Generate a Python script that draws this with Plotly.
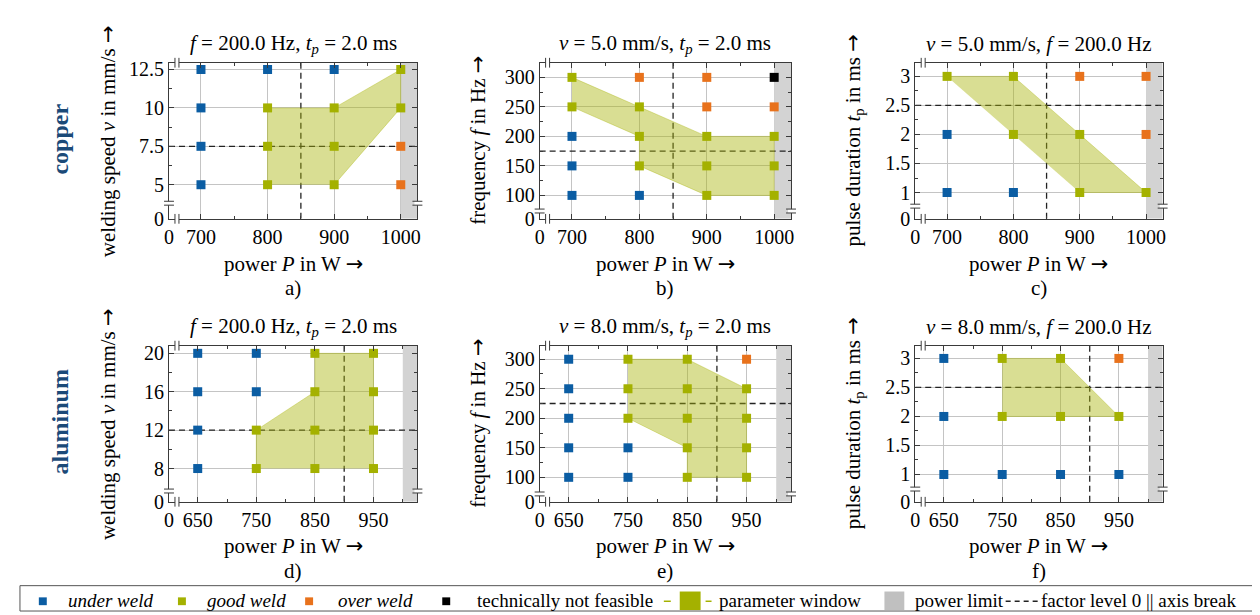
import plotly.graph_objects as go

W, H = 1260, 615
FONT = "Liberation Serif, Times New Roman, Times, serif"
ARROW = '<span style="font-family:DejaVu Sans">→</span>'

# ---------------- data ----------------
P_copper = [700, 800, 900, 1000]
P_alu = [650, 750, 850, 950]

v_copper = [5, 7.5, 10, 12.5]
f_levels = [100, 150, 200, 250, 300]
tp_levels = [1, 2, 3]
v_alu = [8, 12, 16, 20]

# weld result per power level (rows) and factor level (columns)
# u = under weld, g = good weld, o = over weld, x = technically not feasible
res_a = [["u", "u", "u", "u"], ["g", "g", "g", "u"], ["g", "g", "g", "u"], ["o", "o", "g", "g"]]
res_b = [["u", "u", "u", "g", "g"], ["u", "g", "g", "g", "o"], ["g", "g", "g", "o", "o"], ["g", "g", "g", "o", "x"]]
res_c = [["u", "u", "g"], ["u", "g", "g"], ["g", "g", "o"], ["g", "o", "o"]]
res_d = [["u", "u", "u", "u"], ["g", "g", "u", "u"], ["g", "g", "g", "g"], ["g", "g", "g", "g"]]
res_e = [["u", "u", "u", "u", "u"], ["u", "u", "g", "g", "g"], ["g", "g", "g", "g", "g"], ["g", "g", "g", "g", "o"]]
res_f = [["u", "u", "u"], ["u", "g", "g"], ["u", "g", "g"], ["u", "g", "o"]]

# parameter windows (polygon vertices)
win_a_P = [800, 800, 900, 1000, 1000, 900]
win_a_y = [5, 10, 10, 12.5, 10, 5]
win_b_P = [700, 900, 1000, 1000, 900, 800, 800, 700]
win_b_y = [300, 200, 200, 100, 100, 150, 200, 250]
win_c_P = [700, 800, 1000, 900]
win_c_y = [3, 3, 1, 1]
win_d_P = [750, 750, 850, 850, 950, 950]
win_d_y = [8, 12, 16, 20, 20, 8]
win_e_P = [750, 850, 950, 950, 850, 850, 750]
win_e_y = [300, 300, 250, 100, 100, 150, 200]
win_f_P = [750, 850, 950, 750]
win_f_y = [3, 3, 2, 2]

# factor level 0 (centre point)
center_P = [850, 850, 850, 900, 900, 900]
center_y = [7.5, 175, 2.5, 12, 225, 2.5]
power_limit = 1000

titles = [
    "<i>f</i> = 200.0 Hz, <i>t<sub>p</sub></i> = 2.0 ms",
    "<i>v</i> = 5.0 mm/s, <i>t<sub>p</sub></i> = 2.0 ms",
    "<i>v</i> = 5.0 mm/s, <i>f</i> = 200.0 Hz",
    "<i>f</i> = 200.0 Hz, <i>t<sub>p</sub></i> = 2.0 ms",
    "<i>v</i> = 8.0 mm/s, <i>t<sub>p</sub></i> = 2.0 ms",
    "<i>v</i> = 8.0 mm/s, <i>f</i> = 200.0 Hz",
]
ytitles = [
    "welding speed <i>v</i> in mm/s " + ARROW,
    "frequency <i>f</i> in Hz " + ARROW,
    "pulse duration <i>t</i><sub>p</sub> in ms " + ARROW,
    "welding speed <i>v</i> in mm/s " + ARROW,
    "frequency <i>f</i> in Hz " + ARROW,
    "pulse duration <i>t</i><sub>p</sub> in ms " + ARROW,
]
xtitle = "power <i>P</i> in W " + ARROW
panel_labels = ["a)", "b)", "c)", "d)", "e)", "f)"]
row_labels = ["copper", "aluminum"]

x_ticks_top = [700, 800, 900, 1000]
x_minor_top = [750, 850, 950]
x_ticks_bot = [650, 750, 850, 950]
x_minor_bot = [700, 800, 900, 1000]
y_ticks = [[5, 7.5, 10, 12.5], [100, 150, 200, 250, 300], [1, 1.5, 2, 2.5, 3],
           [8, 12, 16, 20], [100, 150, 200, 250, 300], [1, 1.5, 2, 2.5, 3]]
y_ticktext = [["5", "7.5", "10", "12.5"], ["100", "150", "200", "250", "300"],
              ["1", "1.5", "2", "2.5", "3"], ["8", "12", "16", "20"],
              ["100", "150", "200", "250", "300"], ["1", "1.5", "2", "2.5", "3"]]
y_minor = [[6.25, 8.75, 11.25], [125, 175, 225, 275], [1.25, 1.75, 2.25, 2.75],
           [10, 14, 18], [125, 175, 225, 275], [1.25, 1.75, 2.25, 2.75]]

# ---------------- styles / layout ----------------
COL = {"u": "#0b5da3", "g": "#a4b100", "o": "#e8721c", "x": "#000000"}
FILL = "rgba(168,180,10,0.44)"
GRAY = "#d3d3d3"
AX = "#3a3a3a"
GRID = "#c4c4c4"

XD = [(157, 407), (530, 783), (908, 1157)]
YD = [(52, 212), (342, 502)]
x_range_top = [652, 1025]
x_range_bot = [601, 1025]
y_ranges = [[2.78, 12.94], [60.3, 324.8], [0.547, 3.235],
             [4.54, 20.8], [58.6, 323], [0.53, 3.22]]
y_break_px = [16, 8, 13, 11, 8, 13]


def px(x):
    return x / W


def py(y):
    return 1 - y / H


panels = [
    (P_copper, v_copper, res_a, win_a_P, win_a_y),
    (P_copper, f_levels, res_b, win_b_P, win_b_y),
    (P_copper, tp_levels, res_c, win_c_P, win_c_y),
    (P_alu, v_alu, res_d, win_d_P, win_d_y),
    (P_alu, f_levels, res_e, win_e_P, win_e_y),
    (P_alu, tp_levels, res_f, win_f_P, win_f_y),
]

fig = go.Figure()
shapes = []
annotations = []
layout_axes = {}

for i, (Ps, levels, res, wP, wy) in enumerate(panels):
    k = i + 1
    xs = "x" if k == 1 else f"x{k}"
    ys = "y" if k == 1 else f"y{k}"
    row, col = divmod(i, 3)
    xd0, xd1 = XD[col]
    yd0, yd1 = YD[row]
    xr = x_range_top if row == 0 else x_range_bot
    yr = y_ranges[i]
    xt = x_ticks_top if row == 0 else x_ticks_bot
    xm = x_minor_top if row == 0 else x_minor_bot

    # parameter window
    fig.add_trace(go.Scatter(x=wP, y=wy, xaxis=xs, yaxis=ys, mode="lines", fill="toself",
                             fillcolor=FILL, line=dict(color="rgba(165,178,0,0.35)", width=1),
                             hoverinfo="skip", showlegend=False))
    # measurement points
    for code in ["u", "g", "o", "x"]:
        px_, py_ = [], []
        for pi, P in enumerate(Ps):
            for li, lv in enumerate(levels):
                if res[pi][li] == code:
                    px_.append(P)
                    py_.append(lv)
        if px_:
            fig.add_trace(go.Scatter(x=px_, y=py_, xaxis=xs, yaxis=ys, mode="markers",
                                     marker=dict(symbol="square", size=9, color=COL[code],
                                                 line=dict(width=0)),
                                     showlegend=False, cliponaxis=False))

    ax_common = dict(showline=True, linecolor=AX, linewidth=1, mirror="allticks",
                     ticks="inside", ticklen=5, tickcolor=AX, tickwidth=1,
                     showgrid=True, gridcolor=GRID, gridwidth=1, zeroline=False,
                     tickfont=dict(family=FONT, size=20, color="black"),
                     tickmode="array", fixedrange=True)
    layout_axes["xaxis" if k == 1 else f"xaxis{k}"] = dict(
        ax_common, domain=[px(xd0), px(xd1)], range=xr, anchor=ys,
        tickvals=[xr[0] + 0.01] + xt, ticktext=["0"] + [str(v) for v in xt],
        minor=dict(ticks="inside", ticklen=3, tickcolor=AX, tickmode="array", tickvals=xm,
                   showgrid=False))
    layout_axes["yaxis" if k == 1 else f"yaxis{k}"] = dict(
        ax_common, domain=[py(yd1), py(yd0)], range=yr, anchor=xs,
        tickvals=[yr[0] + 1e-4 * (yr[1] - yr[0])] + y_ticks[i], ticktext=["0"] + y_ticktext[i],
        minor=dict(ticks="inside", ticklen=3, tickcolor=AX, tickmode="array", tickvals=y_minor[i],
                   showgrid=False))

    # power limit region
    shapes.append(dict(type="rect", xref=xs, yref=ys, x0=power_limit, x1=xr[1], y0=yr[0], y1=yr[1],
                       fillcolor=GRAY, line=dict(width=0), layer="between"))
    # white break gap in the grey region
    yb = yd1 - y_break_px[i]
    shapes.append(dict(type="rect", xref=xs, yref="paper", x0=power_limit, x1=xr[1],
                       y0=py(yb + 1.5), y1=py(yb - 1.5), fillcolor="white", line=dict(width=0),
                       layer="between"))
    # factor level 0
    shapes.append(dict(type="line", xref=xs, yref=ys, x0=xr[0], x1=xr[1], y0=center_y[i], y1=center_y[i],
                       line=dict(color="#222", width=1.3, dash="6px,4px"), layer="between"))
    shapes.append(dict(type="line", xref=xs, yref=ys, x0=center_P[i], x1=center_P[i], y0=yr[0], y1=yr[1],
                       line=dict(color="#222", width=1.3, dash="6px,4px"), layer="between"))

    # axis-break marks (left/right on y axes, bottom/top on x axes)
    for xe in (xd0, xd1):
        shapes.append(dict(type="rect", xref="paper", yref="paper", x0=px(xe - 3), x1=px(xe + 3),
                           y0=py(yb + 2), y1=py(yb - 2), fillcolor="white", line=dict(width=0), layer="above"))
        for d in (-2, 2):
            shapes.append(dict(type="line", xref="paper", yref="paper", x0=px(xe - 5), x1=px(xe + 5),
                               y0=py(yb + d), y1=py(yb + d), line=dict(color=AX, width=1), layer="above"))
    xb = xd0 + 8
    for ye in (yd0, yd1):
        shapes.append(dict(type="rect", xref="paper", yref="paper", x0=px(xb - 2), x1=px(xb + 2),
                           y0=py(ye + 3), y1=py(ye - 3), fillcolor="white", line=dict(width=0), layer="above"))
        for d in (-2, 2):
            shapes.append(dict(type="line", xref="paper", yref="paper", x0=px(xb + d), x1=px(xb + d),
                               y0=py(ye + 5), y1=py(ye - 5), line=dict(color=AX, width=1), layer="above"))

    xc = (xd0 + xd1) / 2
    title_y = 33 if row == 0 else 323
    annotations.append(dict(text=titles[i], x=px(xc), y=py(title_y), xref="paper", yref="paper",
                            showarrow=False, xanchor="center", yanchor="middle",
                            font=dict(family=FONT, size=21, color="black")))
    annotations.append(dict(text=xtitle, x=px(xc), y=py(258 if row == 0 else 547), xref="paper", yref="paper",
                            showarrow=False, xanchor="center", yanchor="middle",
                            font=dict(family=FONT, size=21, color="black")))
    annotations.append(dict(text=panel_labels[i], x=px(xc), y=py(283 if row == 0 else 573), xref="paper",
                            yref="paper", showarrow=False, xanchor="center", yanchor="middle",
                            font=dict(family=FONT, size=21, color="black")))
    annotations.append(dict(text=ytitles[i], x=px(xd0 - 62), y=py((yd0 + yd1) / 2), xref="paper", yref="paper",
                            showarrow=False, xanchor="center", yanchor="middle", textangle=-90,
                            font=dict(family=FONT, size=21, color="black")))

for r, lab in enumerate(row_labels):
    annotations.append(dict(text=f"<b>{lab}</b>", x=px(47), y=py((YD[r][0] + YD[r][1]) / 2 - 2),
                            xref="paper", yref="paper", showarrow=False, textangle=-90,
                            xanchor="center", yanchor="middle",
                            font=dict(family=FONT, size=24, color="#1b4a78")))

# ---------------- legend (drawn) ----------------
LY = 604
shapes.append(dict(type="rect", xref="paper", yref="paper", x0=px(7), x1=px(1256), y0=py(614), y1=py(588),
                   line=dict(color="#555", width=1), fillcolor="rgba(0,0,0,0)", layer="above"))
for cx, code in [(30, "u"), (170, "g"), (298, "o"), (436, "x")]:
    shapes.append(dict(type="rect", xref="paper", yref="paper", x0=px(cx - 4), x1=px(cx + 4),
                       y0=py(LY + 4), y1=py(LY - 4), fillcolor=COL[code], line=dict(width=0), layer="above"))
shapes.append(dict(type="rect", xref="paper", yref="paper", x0=px(671), x1=px(692), y0=py(613), y1=py(594),
                   fillcolor=COL["g"], line=dict(width=0), layer="above"))
for x0, x1 in [(655, 662), (697, 703)]:
    shapes.append(dict(type="line", xref="paper", yref="paper", x0=px(x0), x1=px(x1), y0=py(LY), y1=py(LY),
                       line=dict(color=COL["g"], width=1.5), layer="above"))
shapes.append(dict(type="rect", xref="paper", yref="paper", x0=px(877), x1=px(897), y0=py(613), y1=py(594),
                   fillcolor="#c0c0c0", line=dict(width=0), layer="above"))
shapes.append(dict(type="line", xref="paper", yref="paper", x0=px(999), x1=px(1032), y0=py(LY), y1=py(LY),
                   line=dict(color="#222", width=1.3, dash="5px,4px"), layer="above"))

legend_texts = [(53, "<i>under weld</i>"), (193, "<i>good weld</i>"), (325, "<i>over weld</i>"),
                (465, "technically not feasible"), (708, "parameter window"), (906, "power limit"),
                (1033, "factor level 0 || axis break")]
for x0, t in legend_texts:
    annotations.append(dict(text=t, x=px(x0), y=py(LY - 1), xref="paper", yref="paper", showarrow=False,
                            xanchor="left", yanchor="middle", font=dict(family=FONT, size=19, color="black")))

fig.update_layout(width=W, height=H, autosize=False, margin=dict(l=0, r=0, t=0, b=0),
                  paper_bgcolor="white", plot_bgcolor="white", showlegend=False,
                  font=dict(family=FONT),
                  shapes=shapes, annotations=annotations, **layout_axes)

fig.write_html("out.html")
